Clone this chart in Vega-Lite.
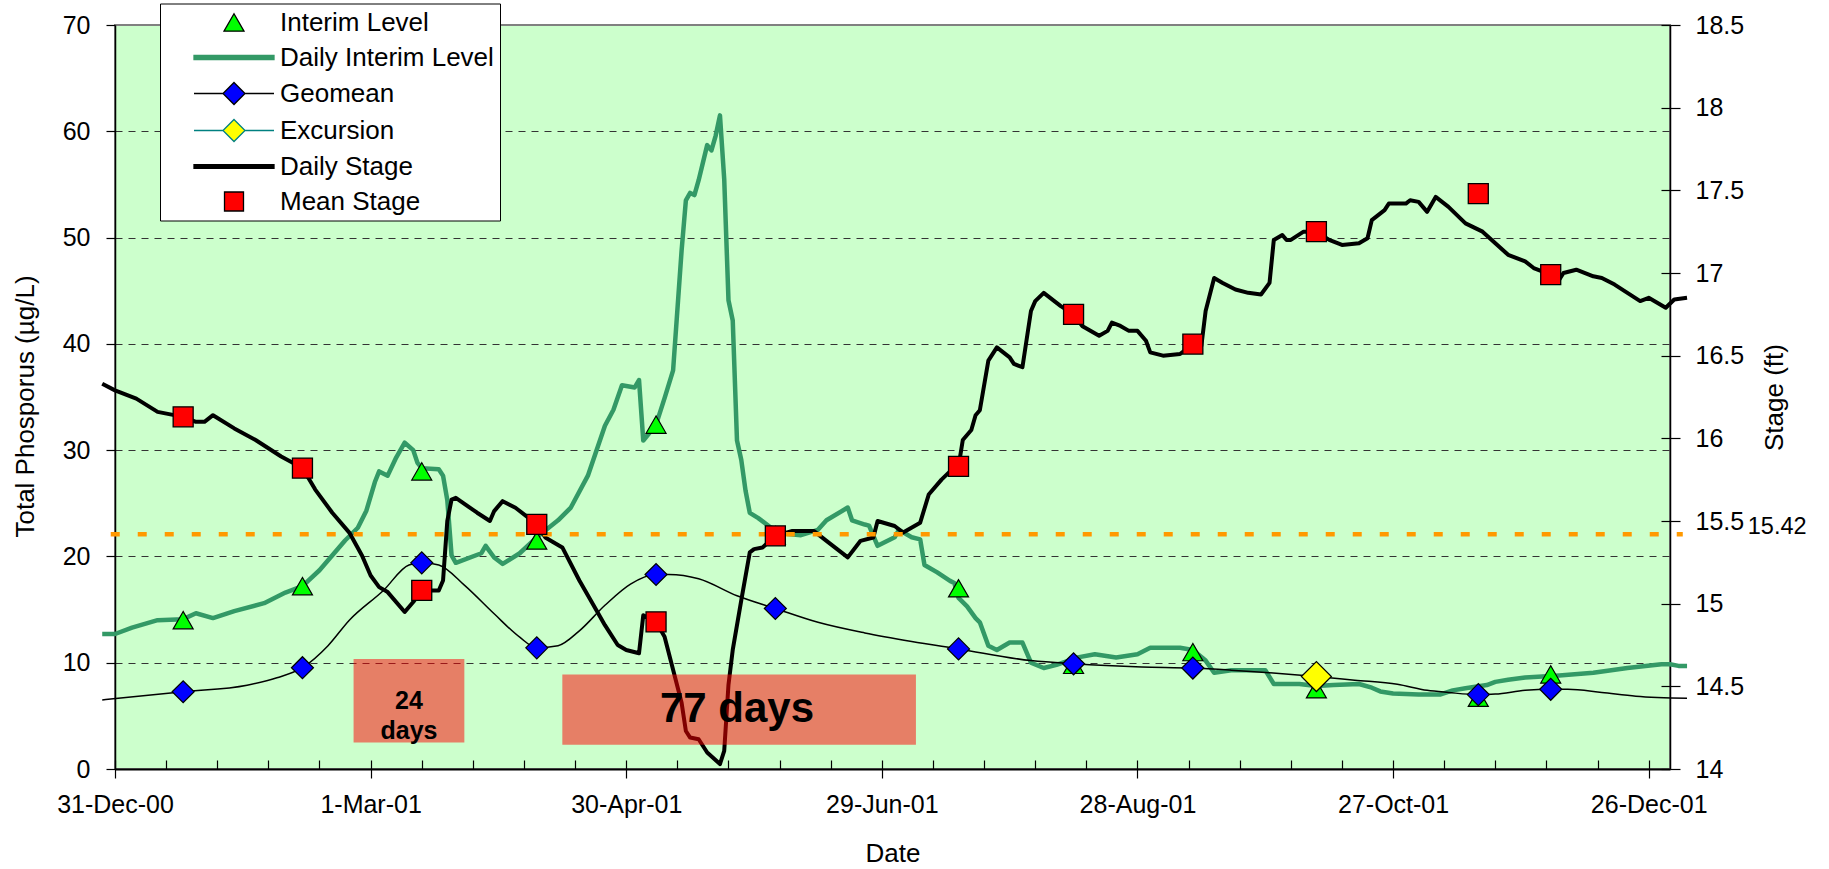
{
  "$schema": "https://vega.github.io/schema/vega-lite/v6.json",
  "width": 1555,
  "height": 744,
  "autosize": {"type": "none"},
  "padding": {"left": 115, "top": 25, "right": 159, "bottom": 100},
  "background": "white",
  "config": {
    "font": "Liberation Sans",
    "view": {"fill": "#CCFFCC", "stroke": "#808080", "strokeWidth": 2},
    "axis": {
      "labelFont": "Liberation Sans", "titleFont": "Liberation Sans",
      "labelColor": "black", "titleColor": "black",
      "labelFontSize": 25, "titleFontSize": 26, "titleFontWeight": "normal",
      "tickColor": "black", "domainColor": "black", "domainWidth": 1.5, "tickWidth": 1.2,
      "labelOverlap": false, "labelFlush": false, "grid": false
    }
  },
  "datasets": {
    "stage": [
      {"date":"2000/12/28","stage":16.33},{"date":"2000/12/31","stage":16.29},{"date":"2001/01/05","stage":16.24},
      {"date":"2001/01/10","stage":16.16},{"date":"2001/01/16","stage":16.13},{"date":"2001/01/19","stage":16.1},
      {"date":"2001/01/21","stage":16.1},{"date":"2001/01/23","stage":16.14},{"date":"2001/01/28","stage":16.06},
      {"date":"2001/02/02","stage":15.99},{"date":"2001/02/08","stage":15.89},{"date":"2001/02/13","stage":15.82},
      {"date":"2001/02/16","stage":15.69},{"date":"2001/02/20","stage":15.55},{"date":"2001/02/24","stage":15.43},
      {"date":"2001/02/27","stage":15.29},{"date":"2001/03/01","stage":15.17},{"date":"2001/03/03","stage":15.1},
      {"date":"2001/03/05","stage":15.07},{"date":"2001/03/09","stage":14.95},{"date":"2001/03/11","stage":15.01},
      {"date":"2001/03/13","stage":15.08},{"date":"2001/03/17","stage":15.08},{"date":"2001/03/18","stage":15.14},
      {"date":"2001/03/19","stage":15.5},{"date":"2001/03/20","stage":15.63},{"date":"2001/03/21","stage":15.64},
      {"date":"2001/03/26","stage":15.55},{"date":"2001/03/29","stage":15.5},{"date":"2001/03/30","stage":15.56},
      {"date":"2001/04/01","stage":15.62},{"date":"2001/04/04","stage":15.58},{"date":"2001/04/07","stage":15.52},
      {"date":"2001/04/09","stage":15.48},{"date":"2001/04/11","stage":15.4},{"date":"2001/04/15","stage":15.34},
      {"date":"2001/04/19","stage":15.14},{"date":"2001/04/23","stage":14.96},{"date":"2001/04/25","stage":14.87},
      {"date":"2001/04/28","stage":14.75},{"date":"2001/04/30","stage":14.72},{"date":"2001/05/03","stage":14.7},
      {"date":"2001/05/04","stage":14.93},{"date":"2001/05/07","stage":14.89},{"date":"2001/05/09","stage":14.8},
      {"date":"2001/05/11","stage":14.6},{"date":"2001/05/13","stage":14.4},{"date":"2001/05/14","stage":14.23},
      {"date":"2001/05/15","stage":14.19},{"date":"2001/05/17","stage":14.18},{"date":"2001/05/19","stage":14.1},
      {"date":"2001/05/22","stage":14.03},{"date":"2001/05/23","stage":14.11},{"date":"2001/05/24","stage":14.51},
      {"date":"2001/05/25","stage":14.72},{"date":"2001/05/27","stage":15.02},{"date":"2001/05/29","stage":15.31},
      {"date":"2001/05/30","stage":15.33},{"date":"2001/06/01","stage":15.34},{"date":"2001/06/04","stage":15.41},
      {"date":"2001/06/08","stage":15.44},{"date":"2001/06/13","stage":15.44},{"date":"2001/06/16","stage":15.38},
      {"date":"2001/06/21","stage":15.28},{"date":"2001/06/24","stage":15.38},{"date":"2001/06/27","stage":15.4},
      {"date":"2001/06/28","stage":15.5},{"date":"2001/07/02","stage":15.47},{"date":"2001/07/04","stage":15.43},
      {"date":"2001/07/08","stage":15.49},{"date":"2001/07/10","stage":15.66},{"date":"2001/07/13","stage":15.75},
      {"date":"2001/07/15","stage":15.8},{"date":"2001/07/17","stage":15.83},{"date":"2001/07/18","stage":15.99},
      {"date":"2001/07/20","stage":16.05},{"date":"2001/07/21","stage":16.14},{"date":"2001/07/22","stage":16.17},
      {"date":"2001/07/24","stage":16.47},{"date":"2001/07/26","stage":16.55},{"date":"2001/07/29","stage":16.49},
      {"date":"2001/07/30","stage":16.45},{"date":"2001/08/01","stage":16.43},{"date":"2001/08/03","stage":16.77},
      {"date":"2001/08/04","stage":16.83},{"date":"2001/08/06","stage":16.88},{"date":"2001/08/10","stage":16.8},
      {"date":"2001/08/13","stage":16.75},{"date":"2001/08/15","stage":16.68},{"date":"2001/08/19","stage":16.62},
      {"date":"2001/08/21","stage":16.65},{"date":"2001/08/22","stage":16.7},{"date":"2001/08/24","stage":16.68},
      {"date":"2001/08/26","stage":16.65},{"date":"2001/08/28","stage":16.65},{"date":"2001/08/30","stage":16.59},
      {"date":"2001/08/31","stage":16.52},{"date":"2001/09/03","stage":16.5},{"date":"2001/09/07","stage":16.51},
      {"date":"2001/09/10","stage":16.57},{"date":"2001/09/12","stage":16.56},{"date":"2001/09/13","stage":16.77},
      {"date":"2001/09/15","stage":16.97},{"date":"2001/09/17","stage":16.94},{"date":"2001/09/20","stage":16.9},
      {"date":"2001/09/23","stage":16.88},{"date":"2001/09/26","stage":16.87},{"date":"2001/09/28","stage":16.94},
      {"date":"2001/09/29","stage":17.2},{"date":"2001/10/01","stage":17.23},{"date":"2001/10/02","stage":17.2},
      {"date":"2001/10/03","stage":17.2},{"date":"2001/10/06","stage":17.25},{"date":"2001/10/09","stage":17.25},
      {"date":"2001/10/12","stage":17.2},{"date":"2001/10/15","stage":17.17},{"date":"2001/10/19","stage":17.18},
      {"date":"2001/10/21","stage":17.21},{"date":"2001/10/22","stage":17.32},{"date":"2001/10/25","stage":17.38},
      {"date":"2001/10/26","stage":17.42},{"date":"2001/10/30","stage":17.42},{"date":"2001/10/31","stage":17.44},
      {"date":"2001/11/02","stage":17.43},{"date":"2001/11/04","stage":17.37},{"date":"2001/11/06","stage":17.46},
      {"date":"2001/11/09","stage":17.4},{"date":"2001/11/13","stage":17.3},{"date":"2001/11/17","stage":17.25},
      {"date":"2001/11/20","stage":17.18},{"date":"2001/11/23","stage":17.11},{"date":"2001/11/27","stage":17.07},
      {"date":"2001/11/29","stage":17.03},{"date":"2001/12/03","stage":16.99},{"date":"2001/12/05","stage":16.96},
      {"date":"2001/12/06","stage":17.0},{"date":"2001/12/09","stage":17.02},{"date":"2001/12/13","stage":16.98},
      {"date":"2001/12/15","stage":16.97},{"date":"2001/12/18","stage":16.93},{"date":"2001/12/21","stage":16.88},
      {"date":"2001/12/24","stage":16.83},{"date":"2001/12/26","stage":16.85},{"date":"2001/12/28","stage":16.82},
      {"date":"2001/12/30","stage":16.79},{"date":"2002/01/01","stage":16.84},{"date":"2002/01/04","stage":16.85}
    ],
    "level": [
      {"date":"2000/12/28","tp":12.7},{"date":"2000/12/31","tp":12.7},{"date":"2001/01/04","tp":13.3},
      {"date":"2001/01/10","tp":14.0},{"date":"2001/01/16","tp":14.1},{"date":"2001/01/19","tp":14.65},
      {"date":"2001/01/23","tp":14.2},{"date":"2001/01/28","tp":14.85},{"date":"2001/02/04","tp":15.6},
      {"date":"2001/02/09","tp":16.6},{"date":"2001/02/13","tp":17.2},{"date":"2001/02/17","tp":18.7},
      {"date":"2001/02/23","tp":21.5},{"date":"2001/02/26","tp":22.7},{"date":"2001/02/28","tp":24.3},
      {"date":"2001/03/02","tp":27.0},{"date":"2001/03/03","tp":28.0},{"date":"2001/03/05","tp":27.6},
      {"date":"2001/03/07","tp":29.3},{"date":"2001/03/09","tp":30.7},{"date":"2001/03/11","tp":30.0},
      {"date":"2001/03/12","tp":28.8},{"date":"2001/03/13","tp":28.3},{"date":"2001/03/17","tp":28.2},
      {"date":"2001/03/18","tp":27.6},{"date":"2001/03/19","tp":25.3},{"date":"2001/03/20","tp":20.1},
      {"date":"2001/03/21","tp":19.4},{"date":"2001/03/27","tp":20.3},{"date":"2001/03/28","tp":21.0},
      {"date":"2001/03/30","tp":19.9},{"date":"2001/04/01","tp":19.3},{"date":"2001/04/05","tp":20.3},
      {"date":"2001/04/09","tp":21.8},{"date":"2001/04/14","tp":23.4},{"date":"2001/04/17","tp":24.6},
      {"date":"2001/04/21","tp":27.6},{"date":"2001/04/25","tp":32.3},{"date":"2001/04/27","tp":33.8},
      {"date":"2001/04/29","tp":36.1},{"date":"2001/05/02","tp":35.9},{"date":"2001/05/03","tp":36.6},
      {"date":"2001/05/04","tp":30.9},{"date":"2001/05/05","tp":31.4},{"date":"2001/05/07","tp":32.4},
      {"date":"2001/05/09","tp":34.9},{"date":"2001/05/11","tp":37.5},{"date":"2001/05/13","tp":48.8},
      {"date":"2001/05/14","tp":53.5},{"date":"2001/05/15","tp":54.2},{"date":"2001/05/16","tp":54.0},
      {"date":"2001/05/17","tp":55.4},{"date":"2001/05/19","tp":58.7},{"date":"2001/05/20","tp":58.2},
      {"date":"2001/05/21","tp":59.6},{"date":"2001/05/22","tp":61.5},{"date":"2001/05/23","tp":55.5},
      {"date":"2001/05/24","tp":44.1},{"date":"2001/05/25","tp":42.2},{"date":"2001/05/26","tp":30.9},
      {"date":"2001/05/27","tp":29.1},{"date":"2001/05/28","tp":26.2},{"date":"2001/05/29","tp":24.1},
      {"date":"2001/05/31","tp":23.6},{"date":"2001/06/03","tp":22.7},{"date":"2001/06/07","tp":22.1},
      {"date":"2001/06/10","tp":22.0},{"date":"2001/06/14","tp":22.5},{"date":"2001/06/16","tp":23.4},
      {"date":"2001/06/21","tp":24.6},{"date":"2001/06/22","tp":23.4},{"date":"2001/06/25","tp":23.0},
      {"date":"2001/06/26","tp":22.9},{"date":"2001/06/28","tp":21.0},{"date":"2001/07/02","tp":21.8},
      {"date":"2001/07/03","tp":22.5},{"date":"2001/07/06","tp":21.8},{"date":"2001/07/08","tp":21.6},
      {"date":"2001/07/09","tp":19.2},{"date":"2001/07/12","tp":18.5},{"date":"2001/07/15","tp":17.7},
      {"date":"2001/07/16","tp":17.5},{"date":"2001/07/17","tp":16.1},{"date":"2001/07/19","tp":15.3},
      {"date":"2001/07/21","tp":14.2},{"date":"2001/07/22","tp":13.8},{"date":"2001/07/24","tp":11.6},
      {"date":"2001/07/26","tp":11.2},{"date":"2001/07/29","tp":11.9},{"date":"2001/08/01","tp":11.9},
      {"date":"2001/08/03","tp":10.0},{"date":"2001/08/06","tp":9.5},{"date":"2001/08/09","tp":9.8},
      {"date":"2001/08/14","tp":10.5},{"date":"2001/08/18","tp":10.8},{"date":"2001/08/23","tp":10.5},
      {"date":"2001/08/28","tp":10.8},{"date":"2001/08/31","tp":11.4},{"date":"2001/09/07","tp":11.4},
      {"date":"2001/09/10","tp":11.2},{"date":"2001/09/13","tp":10.2},{"date":"2001/09/15","tp":9.05},
      {"date":"2001/09/19","tp":9.3},{"date":"2001/09/27","tp":9.3},{"date":"2001/09/29","tp":8.0},
      {"date":"2001/10/05","tp":8.0},{"date":"2001/10/09","tp":7.8},{"date":"2001/10/13","tp":7.9},
      {"date":"2001/10/19","tp":8.0},{"date":"2001/10/22","tp":7.65},{"date":"2001/10/24","tp":7.3},
      {"date":"2001/10/27","tp":7.1},{"date":"2001/11/02","tp":7.0},{"date":"2001/11/07","tp":7.0},
      {"date":"2001/11/10","tp":7.4},{"date":"2001/11/13","tp":7.6},{"date":"2001/11/18","tp":7.9},
      {"date":"2001/11/20","tp":8.2},{"date":"2001/11/23","tp":8.4},{"date":"2001/11/27","tp":8.6},
      {"date":"2001/12/05","tp":8.8},{"date":"2001/12/13","tp":9.05},{"date":"2001/12/21","tp":9.5},
      {"date":"2001/12/29","tp":9.85},{"date":"2001/12/31","tp":9.85},{"date":"2002/01/02","tp":9.7},
      {"date":"2002/01/04","tp":9.7}
    ],
    "geomean": [
      {"date":"2000/12/28","tp":6.5},{"date":"2001/01/16","tp":7.27},{"date":"2001/01/31","tp":7.88},
      {"date":"2001/02/07","tp":8.58},{"date":"2001/02/13","tp":9.53},{"date":"2001/02/19","tp":11.6},
      {"date":"2001/02/24","tp":14.0},{"date":"2001/03/04","tp":16.8},{"date":"2001/03/10","tp":19.2},
      {"date":"2001/03/13","tp":19.4},{"date":"2001/03/17","tp":19.2},{"date":"2001/03/23","tp":17.3},
      {"date":"2001/03/30","tp":14.6},{"date":"2001/04/05","tp":12.4},{"date":"2001/04/09","tp":11.4},
      {"date":"2001/04/14","tp":11.6},{"date":"2001/04/19","tp":13.0},{"date":"2001/04/25","tp":15.4},
      {"date":"2001/05/01","tp":17.4},{"date":"2001/05/07","tp":18.3},{"date":"2001/05/10","tp":18.3},
      {"date":"2001/05/17","tp":17.9},{"date":"2001/05/26","tp":16.3},{"date":"2001/06/04","tp":15.1},
      {"date":"2001/06/14","tp":13.8},{"date":"2001/06/25","tp":12.8},{"date":"2001/07/06","tp":12.0},
      {"date":"2001/07/17","tp":11.3},{"date":"2001/08/03","tp":10.2},{"date":"2001/08/13","tp":9.9},
      {"date":"2001/08/29","tp":9.6},{"date":"2001/09/10","tp":9.5},{"date":"2001/09/19","tp":9.3},
      {"date":"2001/09/28","tp":9.05},{"date":"2001/10/09","tp":8.7},{"date":"2001/10/18","tp":8.36},
      {"date":"2001/10/28","tp":7.98},{"date":"2001/11/04","tp":7.4},{"date":"2001/11/09","tp":7.2},
      {"date":"2001/11/16","tp":7.0},{"date":"2001/11/20","tp":7.05},{"date":"2001/11/27","tp":7.4},
      {"date":"2001/12/03","tp":7.5},{"date":"2001/12/07","tp":7.5},{"date":"2001/12/15","tp":7.2},
      {"date":"2001/12/23","tp":6.85},{"date":"2002/01/04","tp":6.66}
    ],
    "samples": [
      {"date":"2001/01/16","series":"Interim Level","value":14.0},
      {"date":"2001/02/13","series":"Interim Level","value":17.2},
      {"date":"2001/03/13","series":"Interim Level","value":28.0},
      {"date":"2001/04/09","series":"Interim Level","value":21.5},
      {"date":"2001/05/07","series":"Interim Level","value":32.4},
      {"date":"2001/06/04","series":"Interim Level","value":22.0},
      {"date":"2001/07/17","series":"Interim Level","value":17.0},
      {"date":"2001/08/13","series":"Interim Level","value":9.8},
      {"date":"2001/09/10","series":"Interim Level","value":11.0},
      {"date":"2001/10/09","series":"Interim Level","value":7.5},
      {"date":"2001/11/16","series":"Interim Level","value":6.7},
      {"date":"2001/12/03","series":"Interim Level","value":8.9},
      {"date":"2001/01/16","series":"Geomean","value":7.27},
      {"date":"2001/02/13","series":"Geomean","value":9.53},
      {"date":"2001/03/13","series":"Geomean","value":19.4},
      {"date":"2001/04/09","series":"Geomean","value":11.4},
      {"date":"2001/05/07","series":"Geomean","value":18.3},
      {"date":"2001/06/04","series":"Geomean","value":15.1},
      {"date":"2001/07/17","series":"Geomean","value":11.3},
      {"date":"2001/08/13","series":"Geomean","value":9.9},
      {"date":"2001/09/10","series":"Geomean","value":9.5},
      {"date":"2001/10/09","series":"Geomean","value":8.7},
      {"date":"2001/11/16","series":"Geomean","value":7.0},
      {"date":"2001/12/03","series":"Geomean","value":7.5},
      {"date":"2001/10/09","series":"Excursion","value":8.7},
      {"date":"2001/01/16","series":"Mean Stage","value":16.13},
      {"date":"2001/02/13","series":"Mean Stage","value":15.82},
      {"date":"2001/03/13","series":"Mean Stage","value":15.08},
      {"date":"2001/04/09","series":"Mean Stage","value":15.48},
      {"date":"2001/05/07","series":"Mean Stage","value":14.89},
      {"date":"2001/06/04","series":"Mean Stage","value":15.41},
      {"date":"2001/07/17","series":"Mean Stage","value":15.83},
      {"date":"2001/08/13","series":"Mean Stage","value":16.75},
      {"date":"2001/09/10","series":"Mean Stage","value":16.57},
      {"date":"2001/10/09","series":"Mean Stage","value":17.25},
      {"date":"2001/11/16","series":"Mean Stage","value":17.48},
      {"date":"2001/12/03","series":"Mean Stage","value":16.99}
    ],
    "threshold": [
      {"start":"2000/12/30","end":"2002/01/03","stage":15.42}
    ],
    "periods": [
      {"days":24,"start":"2001/02/25","end":"2001/03/23","bottom":2.5,"top":10.35,"mid":"2001/03/10","center":6.4,"label":["24","days"]},
      {"days":77,"start":"2001/04/15","end":"2001/07/07","bottom":2.27,"top":8.9,"mid":"2001/05/26","center":5.6,"label":"77 days"}
    ]
  },
  "resolve": {"scale": {"y": "independent"}, "axis": {"x": "independent", "y": "independent"}},
  "layer": [
    {
      "data": {"name": "level"},
      "mark": {"type": "line", "color": "#339966", "strokeWidth": 4.5, "strokeJoin": "round"},
      "encoding": {
        "x": {"field": "date", "type": "temporal",
          "scale": {"domain": [{"year":2000,"month":12,"date":31},{"year":2001,"month":12,"date":31}], "nice": false},
          "axis": {"orient": "bottom", "format": "%-d-%b-%y", "tickSize": 9, "labelPadding": 14,
            "domainWidth": 2, "title": "Date", "titleY": 84, "titleBaseline": "middle",
            "values": [{"year":2000,"month":12,"date":31},{"year":2001,"month":3,"date":1},{"year":2001,"month":4,"date":30},
              {"year":2001,"month":6,"date":29},{"year":2001,"month":8,"date":28},{"year":2001,"month":10,"date":27},
              {"year":2001,"month":12,"date":26}]}},
        "y": {"field": "tp", "type": "quantitative",
          "scale": {"domain": [0, 70], "nice": false, "zero": false},
          "axis": {"orient": "left", "values": [0,10,20,30,40,50,60,70], "title": "Total Phosporus (µg/L)",
            "tickSize": 9, "labelPadding": 16, "grid": true, "gridDash": [7, 6], "gridColor": "#333333", "gridWidth": 1,
            "gridOpacity": {"condition": {"test": "datum.value === 0 || datum.value === 70", "value": 0}, "value": 1},
            "titleX": -90, "titleY": 381, "titleAngle": 270, "titleBaseline": "middle", "titleAlign": "center"}}
      }
    },
    {
      "data": {"name": "geomean"},
      "mark": {"type": "line", "color": "black", "strokeWidth": 1.5, "interpolate": "monotone"},
      "encoding": {
        "x": {"field": "date", "type": "temporal",
          "scale": {"domain": [{"year":2000,"month":12,"date":31},{"year":2001,"month":12,"date":31}], "nice": false},
          "axis": {"orient": "bottom", "tickSize": -9, "labels": false, "domain": false, "title": null,
            "values": [{"year":2000,"month":12,"date":31},{"year":2001,"month":1,"date":12},{"year":2001,"month":1,"date":24},
              {"year":2001,"month":2,"date":5},{"year":2001,"month":2,"date":17},{"year":2001,"month":3,"date":1},
              {"year":2001,"month":3,"date":13},{"year":2001,"month":3,"date":25},{"year":2001,"month":4,"date":6},
              {"year":2001,"month":4,"date":18},{"year":2001,"month":4,"date":30},{"year":2001,"month":5,"date":12},
              {"year":2001,"month":5,"date":24},{"year":2001,"month":6,"date":5},{"year":2001,"month":6,"date":17},
              {"year":2001,"month":6,"date":29},{"year":2001,"month":7,"date":11},{"year":2001,"month":7,"date":23},
              {"year":2001,"month":8,"date":4},{"year":2001,"month":8,"date":16},{"year":2001,"month":8,"date":28},
              {"year":2001,"month":9,"date":9},{"year":2001,"month":9,"date":21},{"year":2001,"month":10,"date":3},
              {"year":2001,"month":10,"date":15},{"year":2001,"month":10,"date":27},{"year":2001,"month":11,"date":8},
              {"year":2001,"month":11,"date":20},{"year":2001,"month":12,"date":2},{"year":2001,"month":12,"date":14},
              {"year":2001,"month":12,"date":26}]}},
        "y": {"field": "tp", "type": "quantitative", "scale": {"domain": [0, 70], "nice": false, "zero": false}, "axis": null}
      }
    },
    {
      "data": {"name": "stage"},
      "mark": {"type": "line", "color": "black", "strokeWidth": 4, "strokeJoin": "round"},
      "encoding": {
        "x": {"field": "date", "type": "temporal",
          "scale": {"domain": [{"year":2000,"month":12,"date":31},{"year":2001,"month":12,"date":31}], "nice": false}, "axis": null},
        "y": {"field": "stage", "type": "quantitative",
          "scale": {"domain": [14, 18.5], "nice": false, "zero": false},
          "axis": {"orient": "right", "values": [14,14.5,15,15.5,16,16.5,17,17.5,18,18.5], "format": "~g",
            "title": "Stage (ft)", "tickSize": 10, "labelPadding": 15,
            "titleX": 104, "titleY": 372, "titleAngle": 270, "titleBaseline": "middle", "titleAlign": "center"}}
      }
    },
    {
      "data": {"name": "threshold"},
      "mark": {"type": "rule", "color": "#FF9900", "strokeWidth": 4.5, "strokeDash": [9, 18], "strokeCap": "butt"},
      "encoding": {
        "x": {"field": "start", "type": "temporal",
          "scale": {"domain": [{"year":2000,"month":12,"date":31},{"year":2001,"month":12,"date":31}], "nice": false}, "axis": null},
        "x2": {"field": "end"},
        "y": {"field": "stage", "type": "quantitative",
          "scale": {"domain": [14, 18.5], "nice": false, "zero": false},
          "axis": {"orient": "right", "values": [14,14.5,15,15.5,16,16.5,17,17.5,18,18.5], "tickSize": -9,
            "labels": false, "domain": false, "title": null}}
      }
    },
    {
      "data": {"name": "threshold"},
      "mark": {"type": "text", "align": "left", "baseline": "middle", "dx": 65, "dy": -7, "fontSize": 23.5, "color": "black"},
      "encoding": {
        "x": {"field": "end", "type": "temporal",
          "scale": {"domain": [{"year":2000,"month":12,"date":31},{"year":2001,"month":12,"date":31}], "nice": false}, "axis": null},
        "y": {"field": "stage", "type": "quantitative", "scale": {"domain": [14, 18.5], "nice": false, "zero": false}, "axis": null},
        "text": {"field": "stage", "type": "quantitative", "format": ".2f"}
      }
    },
    {
      "data": {"name": "periods"},
      "mark": {"type": "rect", "color": "#FF0000", "opacity": 0.5},
      "encoding": {
        "x": {"field": "start", "type": "temporal",
          "scale": {"domain": [{"year":2000,"month":12,"date":31},{"year":2001,"month":12,"date":31}], "nice": false}, "axis": null},
        "x2": {"field": "end"},
        "y": {"field": "top", "type": "quantitative", "scale": {"domain": [0, 70], "nice": false, "zero": false}, "axis": null},
        "y2": {"field": "bottom"}
      }
    },
    {
      "data": {"name": "periods"},
      "transform": [{"filter": "datum.days === 24"}],
      "mark": {"type": "text", "fontWeight": "bold", "fontSize": 25, "lineHeight": 30, "align": "center", "baseline": "middle", "color": "black"},
      "encoding": {
        "x": {"field": "mid", "type": "temporal",
          "scale": {"domain": [{"year":2000,"month":12,"date":31},{"year":2001,"month":12,"date":31}], "nice": false}, "axis": null},
        "y": {"field": "center", "type": "quantitative", "scale": {"domain": [0, 70], "nice": false, "zero": false}, "axis": null},
        "text": {"field": "label"}
      }
    },
    {
      "data": {"name": "periods"},
      "transform": [{"filter": "datum.days === 77"}],
      "mark": {"type": "text", "fontWeight": "bold", "fontSize": 42, "align": "center", "baseline": "middle", "color": "black"},
      "encoding": {
        "x": {"field": "mid", "type": "temporal",
          "scale": {"domain": [{"year":2000,"month":12,"date":31},{"year":2001,"month":12,"date":31}], "nice": false}, "axis": null},
        "y": {"field": "center", "type": "quantitative", "scale": {"domain": [0, 70], "nice": false, "zero": false}, "axis": null},
        "text": {"field": "label"}
      }
    },
    {
      "data": {"name": "samples"},
      "transform": [{"filter": "datum.series === 'Interim Level'"}],
      "mark": {"type": "point", "shape": "triangle-up", "filled": true, "fill": "#00FF00", "size": 400, "stroke": "black", "strokeWidth": 1.2, "opacity": 1},
      "encoding": {
        "x": {"field": "date", "type": "temporal",
          "scale": {"domain": [{"year":2000,"month":12,"date":31},{"year":2001,"month":12,"date":31}], "nice": false}, "axis": null},
        "y": {"field": "value", "type": "quantitative", "scale": {"domain": [0, 70], "nice": false, "zero": false}, "axis": null}
      }
    },
    {
      "data": {"name": "samples"},
      "transform": [{"filter": "datum.series === 'Geomean'"}],
      "mark": {"type": "point", "shape": "diamond", "filled": true, "fill": "#0000FF", "size": 484, "stroke": "black", "strokeWidth": 1.2, "opacity": 1},
      "encoding": {
        "x": {"field": "date", "type": "temporal",
          "scale": {"domain": [{"year":2000,"month":12,"date":31},{"year":2001,"month":12,"date":31}], "nice": false}, "axis": null},
        "y": {"field": "value", "type": "quantitative", "scale": {"domain": [0, 70], "nice": false, "zero": false}, "axis": null}
      }
    },
    {
      "data": {"name": "samples"},
      "transform": [{"filter": "datum.series === 'Excursion'"}],
      "mark": {"type": "point", "shape": "diamond", "filled": true, "fill": "#FFFF00", "size": 900, "stroke": "black", "strokeWidth": 1.2, "opacity": 1},
      "encoding": {
        "x": {"field": "date", "type": "temporal",
          "scale": {"domain": [{"year":2000,"month":12,"date":31},{"year":2001,"month":12,"date":31}], "nice": false}, "axis": null},
        "y": {"field": "value", "type": "quantitative", "scale": {"domain": [0, 70], "nice": false, "zero": false}, "axis": null}
      }
    },
    {
      "data": {"name": "samples"},
      "transform": [{"filter": "datum.series === 'Mean Stage'"}],
      "mark": {"type": "point", "shape": "square", "filled": true, "fill": "#FF0000", "size": 400, "stroke": "black", "strokeWidth": 1.3, "opacity": 1},
      "encoding": {
        "x": {"field": "date", "type": "temporal",
          "scale": {"domain": [{"year":2000,"month":12,"date":31},{"year":2001,"month":12,"date":31}], "nice": false}, "axis": null},
        "y": {"field": "value", "type": "quantitative", "scale": {"domain": [14, 18.5], "nice": false, "zero": false}, "axis": null}
      }
    },
    {
      "data": {"name": "samples"},
      "mark": {"type": "point", "opacity": 0, "size": 10},
      "encoding": {
        "x": {"field": "date", "type": "temporal",
          "scale": {"domain": [{"year":2000,"month":12,"date":31},{"year":2001,"month":12,"date":31}], "nice": false}, "axis": null},
        "y": {"field": "value", "type": "quantitative", "scale": {"domain": [0, 70], "nice": false, "zero": false}, "axis": null},
        "shape": {"field": "series", "type": "nominal",
          "scale": {"domain": ["Interim Level","Daily Interim Level","Geomean","Excursion","Daily Stage","Mean Stage"],
            "range": ["M0,-0.87L1,0.87L-1,0.87Z", "M-4,-0.22H4V0.22H-4Z",
              "M-4,0H-1.1M1.1,0H4M0,-1.1L1.1,0L0,1.1L-1.1,0Z", "M-4,0H-1.1M1.1,0H4M0,-1.1L1.1,0L0,1.1L-1.1,0Z",
              "M-4,-0.18H4V0.18H-4Z", "M-0.95,-0.95H0.95V0.95H-0.95Z"]},
          "legend": {
            "title": null, "orient": "none", "legendX": 45, "legendY": -21.5,
            "fillColor": "white", "strokeColor": "black", "padding": 6,
            "labelFontSize": 26, "labelFont": "Liberation Sans", "labelColor": "black", "labelLimit": 0,
            "symbolSize": 400, "symbolOffset": 55, "labelOffset": 33, "rowPadding": 9,
            "symbolOpacity": 1, "symbolStrokeWidth": 1.3
          }},
        "fill": {"field": "series", "type": "nominal",
          "scale": {"domain": ["Interim Level","Daily Interim Level","Geomean","Excursion","Daily Stage","Mean Stage"],
            "range": ["#00FF00","#339966","#0000FF","#FFFF00","#000000","#FF0000"]},
          "legend": {"title": null, "orient": "none", "symbolOpacity": 1}},
        "stroke": {"field": "series", "type": "nominal",
          "scale": {"domain": ["Interim Level","Daily Interim Level","Geomean","Excursion","Daily Stage","Mean Stage"],
            "range": ["#000000","#339966","#000000","#008080","#000000","#000000"]},
          "legend": {"title": null, "orient": "none", "symbolOpacity": 1}}
      }
    }
  ]
}
